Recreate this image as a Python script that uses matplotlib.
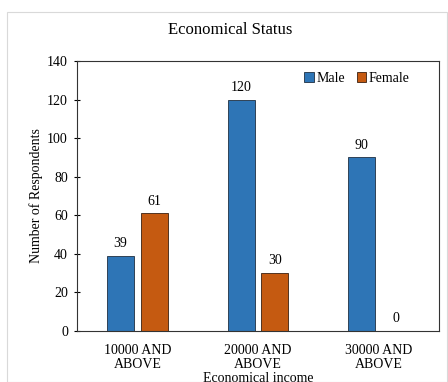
import matplotlib.pyplot as plt
import numpy as np
from matplotlib.patches import Rectangle

plt.rcParams["font.family"] = ["Liberation Serif", "DejaVu Serif"]

categories = ["10000 AND\nABOVE", "20000 AND\nABOVE", "30000 AND\nABOVE"]
male = [39, 120, 90]
female = [61, 30, 0]

fig = plt.figure(figsize=(4.48, 3.82), dpi=100)
fig.patches.append(Rectangle((7 / 448, 0), 1 - 8 / 448, 1 - 12 / 382,
                             transform=fig.transFigure, fill=False,
                             edgecolor="#d9d9d9", linewidth=0.8))
ax = fig.add_axes([77 / 448, 1 - 331 / 382, 362 / 448, 270 / 382])

x = np.arange(len(categories))
w = 0.225
off = 0.14
b1 = ax.bar(x - off, male, w, color="#2E75B6", edgecolor="#1f2f40", linewidth=0.6, label="Male")
b2 = ax.bar(x + off, female, w, color="#C55A11", edgecolor="#3a2010", linewidth=0.6, label="Female")

for bars, vals in ((b1, male), (b2, female)):
    for b, v in zip(bars, vals):
        ax.text(b.get_x() + b.get_width() / 2, v + 3, str(v), ha="center", va="bottom", fontsize=10)

ax.set_xlim(-0.5, 2.5)
ax.set_ylim(0, 140)
ax.set_yticks(np.arange(0, 141, 20))
ax.set_xticks(x)
ax.set_xticklabels(categories, fontsize=10, linespacing=1.1)
ax.tick_params(axis="y", labelsize=10, length=5, direction="inout", pad=4)
ax.tick_params(axis="x", length=0, pad=9)
for s in ax.spines.values():
    s.set_color("#333333")
    s.set_linewidth(0.8)

ax.set_ylabel("Number of Respondents", fontsize=10, labelpad=3)
ax.set_xlabel("Economical income", fontsize=10, labelpad=1)
fig.text(230 / 448, 1 - 30 / 382, "Economical Status", ha="center", va="center", fontsize=12)

ax.legend(loc="upper right", bbox_to_anchor=(1 - 18 / 362, 1), frameon=False, fontsize=10,
          handlelength=0.7, handleheight=0.7, handletextpad=0.2, columnspacing=0.8,
          ncol=2, borderaxespad=0.4)

fig.savefig("out.png", dpi=100)
